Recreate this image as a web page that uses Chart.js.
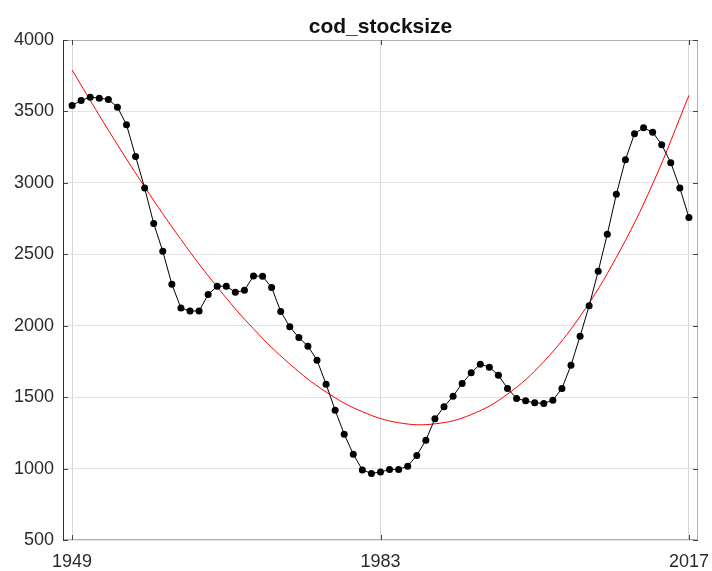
<!DOCTYPE html>
<html>
<head>
<meta charset="utf-8">
<script src="https://cdn.jsdelivr.net/npm/chart.js@4/dist/chart.umd.min.js"></script>
<style>
  body { margin: 0; background: #fff; }
  #wrap { width: 712px; height: 571px; }
</style>
</head>
<body>
<div id="wrap"><canvas id="stockChart" width="712" height="571"></canvas></div>
<script>
// cod stock size per year
const firstYear = 1949;
const stockSize = [
    3542, 3577, 3600, 3593, 3584, 3530, 3407, 3185, 2964, 2715,
    2521, 2290, 2124, 2103, 2103, 2218, 2276, 2276, 2234, 2248,
    2348, 2346, 2267, 2100, 1992, 1917, 1857, 1759, 1591, 1409,
    1241, 1101, 990, 966, 976, 994, 994, 1017, 1092, 1199,
    1348, 1432, 1507, 1596, 1670, 1731, 1710, 1654, 1561, 1491,
    1474, 1460, 1456, 1479, 1561, 1724, 1927, 2139, 2381, 2640,
    2920, 3162, 3344, 3386, 3355, 3267, 3141, 2964, 2757
];
const years = stockSize.map((v, i) => firstYear + i);

// red trend curve, sampled every 4 years
const trendYears = [1949, 1953, 1957, 1961, 1965, 1969, 1973, 1977, 1981,
                    1985, 1989, 1993, 1997, 2001, 2005, 2009, 2013, 2017];
const trendValues = [3790, 3369, 2972, 2604, 2271, 1978, 1732, 1536, 1398,
                     1321, 1313, 1378, 1521, 1749, 2066, 2479, 2992, 3612];

const xTicks = [1949, 1983, 2017];
const yMin = 500, yMax = 4000, yStep = 500;

const labelFont = { family: '"Liberation Sans", Arial, sans-serif', size: 18 };

const frame = {
    id: 'frame',
    afterDraw(chart) {
        const ctx = chart.ctx;
        const a = chart.chartArea;
        const xs = chart.scales.x, ys = chart.scales.y;
        ctx.save();
        // light box
        ctx.strokeStyle = '#b0b0b0';
        ctx.lineWidth = 1;
        ctx.strokeRect(a.left + 0.5, a.top + 0.5, a.right - a.left - 1, a.bottom - a.top - 1);
        // dark left axis
        ctx.strokeStyle = '#303030';
        ctx.beginPath();
        ctx.moveTo(a.left + 0.5, a.top);
        ctx.lineTo(a.left + 0.5, a.bottom);
        ctx.stroke();
        // inward ticks
        ctx.strokeStyle = '#444';
        for (let v = yMin; v <= yMax; v += yStep) {
            const y = Math.round(ys.getPixelForValue(v)) + 0.5;
            ctx.beginPath();
            ctx.moveTo(a.left, y); ctx.lineTo(a.left + 5, y);
            ctx.moveTo(a.right, y); ctx.lineTo(a.right - 5, y);
            ctx.stroke();
        }
        xTicks.forEach(t => {
            const x = Math.round(xs.getPixelForValue(t)) + 0.5;
            ctx.beginPath();
            ctx.moveTo(x, a.bottom); ctx.lineTo(x, a.bottom - 5);
            ctx.moveTo(x, a.top); ctx.lineTo(x, a.top + 5);
            ctx.stroke();
        });
        // title
        ctx.fillStyle = '#111';
        ctx.font = 'bold 21px "Liberation Sans", Arial, sans-serif';
        ctx.textAlign = 'center';
        ctx.textBaseline = 'alphabetic';
        ctx.fillText('cod_stocksize', (a.left + a.right) / 2, 33);
        ctx.restore();
    }
};

new Chart(document.getElementById('stockChart').getContext('2d'), {
    type: 'line',
    data: {
        datasets: [{
            data: years.map((y, i) => ({ x: y, y: stockSize[i] })),
            borderColor: '#000',
            backgroundColor: '#000',
            borderWidth: 1,
            pointRadius: 3.5,
            pointBorderWidth: 0,
            tension: 0,
            order: 1
        }, {
            data: trendYears.map((y, i) => ({ x: y, y: trendValues[i] })),
            borderColor: '#ff0000',
            borderWidth: 1,
            pointRadius: 0,
            tension: 0.4,
            order: 2
        }]
    },
    options: {
        responsive: false,
        animation: false,
        layout: { padding: { left: 0, right: 14, top: 40, bottom: 0 } },
        plugins: {
            legend: { display: false },
            tooltip: { enabled: false }
        },
        scales: {
            x: {
                type: 'linear',
                min: 1948,
                max: 2018,
                afterBuildTicks: scale => { scale.ticks = xTicks.map(v => ({ value: v })); },
                afterFit: scale => {
                    scale.height = 31;
                    scale.paddingLeft = 0;
                    scale.paddingRight = 0;
                },
                ticks: {
                    padding: 11,
                    color: '#2a2a2a',
                    font: labelFont,
                    maxRotation: 0,
                    callback: v => String(v)
                },
                grid: { color: '#d8d8d8', drawTicks: false },
                border: { display: false }
            },
            y: {
                min: yMin,
                max: yMax,
                afterFit: scale => {
                    scale.width = 63;
                    scale.paddingTop = 0;
                    scale.paddingBottom = 0;
                },
                ticks: {
                    stepSize: yStep,
                    padding: 9,
                    color: '#2a2a2a',
                    font: labelFont,
                    callback: v => String(v)
                },
                grid: { color: '#e4e4e4', drawTicks: false },
                border: { display: false }
            }
        }
    },
    plugins: [frame]
});
</script>
</body>
</html>
